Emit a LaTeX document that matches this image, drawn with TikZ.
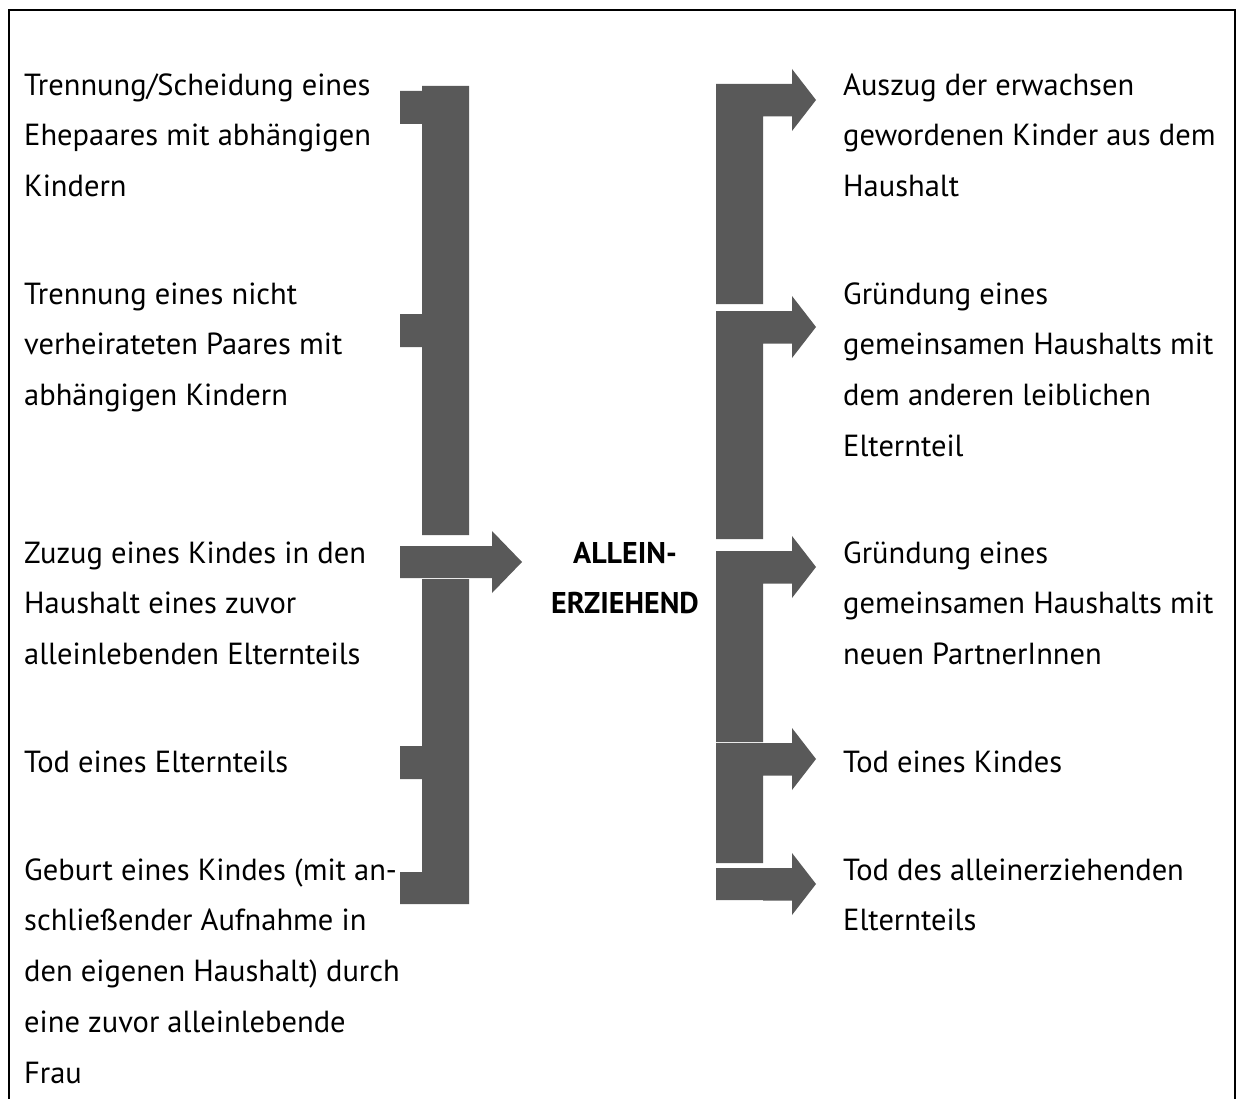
\documentclass[tikz,border=0pt]{standalone}
\usepackage{fontspec}
\setmainfont{PT Sans}
\usepackage{tikz}
\usetikzlibrary{positioning}
\definecolor{balken}{RGB}{89,89,89}
\tikzstyle{txt} = [anchor=north west, inner sep=0, align=left, font=\fontsize{30.5}{50.7}\selectfont]
\tikzstyle{mitte} = [anchor=north, inner sep=0, align=center, font=\fontsize{30}{50.7}\selectfont\bfseries]
\tikzstyle{balk} = [fill=balken, draw=none]

\begin{document}
\begin{tikzpicture}[x=1pt, y=-1pt]
\useasboundingbox (0,0) rectangle (1236,1099);
\draw [line width=2.5] (9,1100) -- (9,10) -- (1235,10) -- (1235,1100);

\node [txt] (l1) at (24, 59.5) {\strut Trennung/Scheidung eines\\ Ehepaares mit abhängigen\\ Kindern};
\node [txt] (l2) at (24, 268.5) {\strut Trennung eines nicht\\ verheirateten Paares mit\\ abhängigen Kindern};
\node [txt] (l3) at (24, 527.5) {\strut Zuzug eines Kindes in den\\ Haushalt eines zuvor\\ alleinlebenden Elternteils};
\node [txt] (l4) at (24, 736.5) {\strut Tod eines Elternteils};
\node [txt] (l5) at (24, 844.5) {\strut Geburt eines Kindes (mit an-\\ schließender Aufnahme in\\ den eigenen Haushalt) durch\\ eine zuvor alleinlebende\\ Frau};

\node [mitte] (ae) at (625, 527.5) {\strut ALLEIN-\\ ERZIEHEND};

\node [txt] (r1) at (843, 59.5) {\strut Auszug der erwachsen\\ gewordenen Kinder aus dem\\ Haushalt};
\node [txt] (r2) at (843, 268.5) {\strut Gründung eines\\ gemeinsamen Haushalts mit\\ dem anderen leiblichen\\ Elternteil};
\node [txt] (r3) at (843, 527.5) {\strut Gründung eines\\ gemeinsamen Haushalts mit\\ neuen PartnerInnen};
\node [txt] (r4) at (843, 736.5) {\strut Tod eines Kindes};
\node [txt] (r5) at (843, 844.5) {\strut Tod des alleinerziehenden\\ Elternteils};

% linke Klammer
\fill [balk] (422,86) -- (469,86) -- (469,535) -- (422,535) -- (422,347) -- (400,347)
  -- (400,314) -- (422,314) -- (422,124) -- (400,124) -- (400,91) -- (422,91) -- cycle;
\fill [balk] (422,579) -- (469,579) -- (469,904) -- (400,904) -- (400,872) -- (422,872)
  -- (422,779) -- (400,779) -- (400,746) -- (422,746) -- cycle;
\fill [balk] (400,546) -- (492,546) -- (492,531) -- (522,562) -- (492,593) -- (492,578) -- (400,578) -- cycle;

% rechte Pfeile
\foreach \oben/\unten in {84/304, 311/539, 551/742, 743/863, 868/900}
  \fill [balk] (716,\oben) -- (792,\oben) -- (792,{\oben-15}) -- (816,{\oben+16}) -- (792,{\oben+47})
    -- (792,{\oben+32.5}) -- (763,{\oben+32.5}) -- (763,\unten) -- (716,\unten) -- cycle;
\end{tikzpicture}
\end{document}
